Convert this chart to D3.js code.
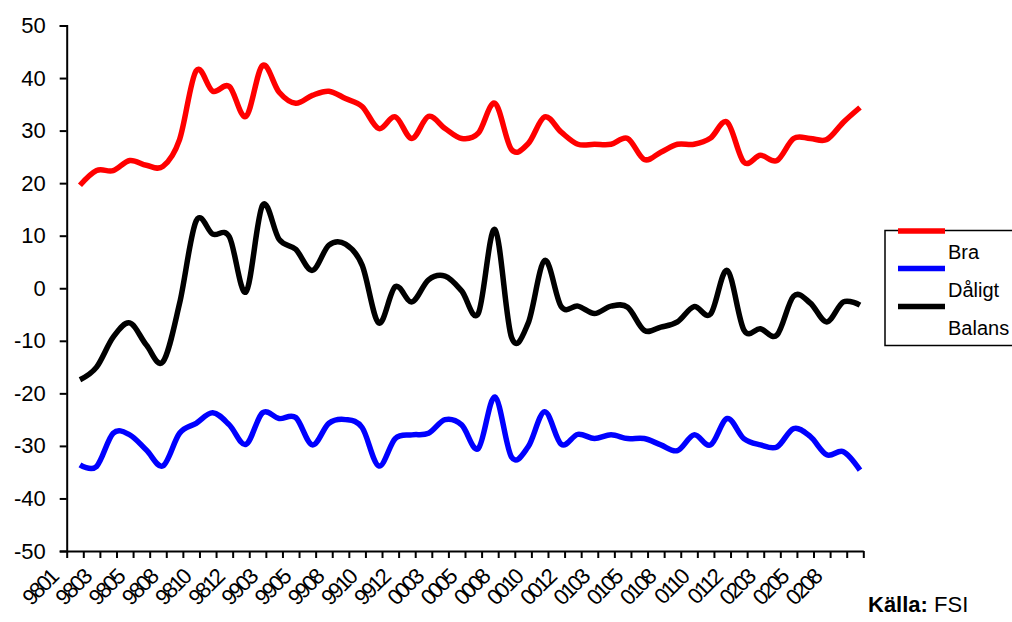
<!DOCTYPE html>
<html>
<head>
<meta charset="utf-8">
<script src="https://cdn.jsdelivr.net/npm/d3@7"></script>
<style>
  html, body { margin: 0; padding: 0; background: #fff; }
  svg text { font-family: "Liberation Sans", Arial, sans-serif; }
</style>
</head>
<body>
<svg id="chart" width="1012" height="622"></svg>
<script>
// ---- data ----
const categories = ['9801','9802','9803','9804','9805','9806','9808','9809','9810','9811','9812',
  '9902','9903','9904','9905','9906','9908','9909','9910','9911','9912',
  '0002','0003','0004','0005','0006','0008','0009','0010','0011','0012',
  '0102','0103','0104','0105','0106','0108','0109','0110','0111','0112',
  '0202','0203','0204','0205','0206','0208','0209'];

const bra = [19.6,22.4,22.4,24.3,23.4,23.2,28.3,41.4,37.5,38.4,32.7,
  42.4,37.3,35.2,36.7,37.5,36.1,34.6,30.4,32.6,28.5,
  32.7,30.4,28.5,29.5,35.2,26.4,27.5,32.6,29.7,27.4,
  27.4,27.4,28.5,24.5,25.9,27.4,27.4,28.6,31.6,24.0,
  25.3,24.3,28.5,28.5,28.3,31.6,34.4];

const daligt = [-33.6,-33.9,-27.6,-27.9,-30.8,-33.8,-27.6,-25.7,-23.7,-26.0,-29.7,
  -23.7,-24.8,-24.6,-29.8,-25.7,-25.0,-26.5,-33.8,-28.6,-27.9,
  -27.6,-25.0,-26.0,-30.5,-20.7,-32.1,-30.2,-23.5,-29.7,-27.8,
  -28.6,-27.9,-28.6,-28.6,-29.8,-30.9,-27.9,-29.8,-24.8,-28.6,
  -29.8,-30.2,-26.7,-28.2,-31.7,-31.1,-34.6];

const balans = [-17.4,-15.0,-9.3,-6.6,-10.8,-14.0,-2.9,12.8,10.3,9.8,-0.7,
  15.8,9.3,7.4,3.4,8.2,8.4,4.4,-6.6,0.3,-2.6,
  1.6,2.3,-0.5,-4.8,11.2,-9.3,-6.7,5.3,-3.5,-3.4,
  -4.8,-3.4,-3.6,-8.0,-7.4,-6.4,-3.5,-4.9,3.4,-7.9,
  -7.7,-8.9,-1.5,-2.8,-6.4,-2.6,-3.2];

const yTicks = [-50,-40,-30,-20,-10,0,10,20,30,40,50];
const seriesNames = ['Bra','Dåligt','Balans'];
const seriesColors = ['#ff0000','#0000ff','#000000'];
const sourceBold = 'Källa:';
const sourceText = ' FSI';

// ---- layout ----
const svg = d3.select('#chart');
const x = d3.scaleLinear().domain([-0.8, 47.2]).range([66.7, 863.3]);
const y = d3.scaleLinear().domain([-50, 50]).range([551, 25.5]);

// y axis
const yAxis = d3.axisLeft(y).tickValues(yTicks).tickSize(7).tickPadding(14).tickFormat(d3.format('d'));
const gy = svg.append('g').attr('transform', 'translate(66.7,0)').call(yAxis);
gy.select('.domain').attr('stroke', '#000').attr('stroke-width', 2);
gy.selectAll('.tick line').attr('stroke', '#000').attr('stroke-width', 2);
gy.selectAll('.tick text').attr('font-size', 22).attr('fill', '#000')
  .attr('font-family', '"Liberation Sans", Arial, sans-serif').text(d => d < 0 ? '-' + Math.abs(d) : d);

// x axis ticks (category boundaries)
const tickVals = d3.range(0, 49).map(k => -0.8 + k);
const xAxis = d3.axisBottom(x).tickValues(tickVals).tickSize(7).tickFormat('').tickSizeOuter(0);
const gx = svg.append('g').attr('transform', 'translate(0,551)').call(xAxis);
gx.select('.domain').attr('stroke', '#000').attr('stroke-width', 2);
gx.selectAll('.tick line').attr('stroke', '#000').attr('stroke-width', 2);

// x labels (every other category)
svg.append('g').selectAll('text')
  .data(categories.map((c, i) => ({c, i})).filter(d => d.i % 2 === 0))
  .join('text')
  .attr('transform', d => `translate(${x(d.i) - 21},579) rotate(-45)`)
  .attr('text-anchor', 'end')
  .attr('font-size', 22)
  .attr('letter-spacing', -2.5)
  .attr('fill', '#000')
  .text(d => d.c);

// lines
const line = d3.line().x((d, i) => x(i)).y(d => y(d)).curve(d3.curveCardinal.tension(0));
[bra, daligt, balans].forEach((s, k) => {
  svg.append('path').datum(s).attr('d', line)
    .attr('fill', 'none').attr('stroke', seriesColors[k]).attr('stroke-width', 5.5)
    .attr('stroke-linejoin', 'round');
});

// legend
const lg = svg.append('g');
lg.append('rect').attr('x', 885).attr('y', 230.5).attr('width', 200).attr('height', 115)
  .attr('fill', '#fff').attr('stroke', '#000').attr('stroke-width', 1.5);
const legY = [231, 268.5, 306.5];
const legTextY = [259, 297, 335];
seriesNames.forEach((n, k) => {
  lg.append('line').attr('x1', 898).attr('x2', 945).attr('y1', legY[k]).attr('y2', legY[k])
    .attr('stroke', seriesColors[k]).attr('stroke-width', 5.5);
  lg.append('text').attr('x', 948).attr('y', legTextY[k]).attr('font-size', 20).attr('fill', '#000').text(n);
});

// source
const src = svg.append('text').attr('x', 868).attr('y', 612).attr('font-size', 22).attr('fill', '#000');
src.append('tspan').attr('font-weight', 'bold').text(sourceBold);
src.append('tspan').text(sourceText);
</script>
</body>
</html>
